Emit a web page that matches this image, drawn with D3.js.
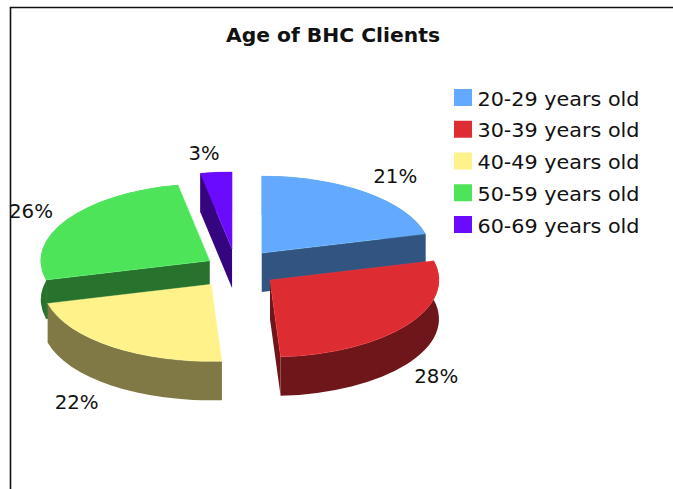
<!DOCTYPE html>
<html>
<head>
<meta charset="utf-8">
<script src="https://cdn.jsdelivr.net/npm/d3@7/dist/d3.min.js"></script>
<style>
html,body{margin:0;padding:0;background:#fff;overflow:hidden}
text{font-family:"DejaVu Sans",Verdana,sans-serif;fill:#111}
</style>
</head>
<body>
<svg id="chart" width="673" height="489"></svg>
<script>
const chartTitle = "Age of BHC Clients";
const categories = ["20-29 years old","30-39 years old","40-49 years old","50-59 years old","60-69 years old"];
const shares = [21,28,22,26,3];
const colours = ["#62a9ff","#de2c33","#fff28a","#4ee45a","#6a0aff"];

// Layout of the 3D pie
const W = 673, H = 489;
const rx = 169, ry = 77, depth = 39, tilt = ry / rx;
const centre = {x:236, y:268.5};
const explode = {x:42, y:19.6};
const explodeFactor = [1,1,1,0.74,1];
const labelRadius = 1.26;
const labelNudge = [[3,0],[-6,0],[-9.5,0],[1,2],[-8,1]];
const drawOrder = [4,0,3,1,2];

const svg = d3.select("#chart");

// frame
svg.append("path")
  .attr("d", `M${W},7.5H10.5V${H}`)
  .attr("fill","none").attr("stroke","#111").attr("stroke-width",1.6);

svg.append("text").attr("x",333).attr("y",42).attr("text-anchor","middle")
  .attr("font-size",20).attr("font-weight","bold").attr("textLength",214).attr("lengthAdjust","spacingAndGlyphs").text(chartTitle);

const pie = d3.pie().sort(null).value(d=>d).startAngle(0).endAngle(2*Math.PI);
const slices = pie(shares);
const arcGen = d3.arc().innerRadius(0).outerRadius(rx);
const toCanvas = t => t - Math.PI/2;
const dark = c => { const r = d3.rgb(c); return d3.rgb(r.r*0.5,r.g*0.5,r.b*0.5).formatHex(); };

function apexOf(d,i){
  const mid = (d.startAngle+d.endAngle)/2, f = explodeFactor[i];
  return {x: centre.x + explode.x*f*Math.sin(mid), y: centre.y - explode.y*f*Math.cos(mid)};
}

const depthScaled = depth / tilt;

function wallPath(a0,a1){
  const p = d3.path();
  p.moveTo(rx*Math.cos(toCanvas(a0)), rx*Math.sin(toCanvas(a0)));
  p.arc(0,0,rx,toCanvas(a0),toCanvas(a1));
  p.lineTo(rx*Math.cos(toCanvas(a1)), rx*Math.sin(toCanvas(a1))+depthScaled);
  p.arc(0,depthScaled,rx,toCanvas(a1),toCanvas(a0),true);
  p.closePath();
  return p.toString();
}
function cutPath(a){
  const x = rx*Math.cos(toCanvas(a)), y = rx*Math.sin(toCanvas(a));
  const p = d3.path();
  p.moveTo(0,0); p.lineTo(x,y); p.lineTo(x,y+depthScaled); p.lineTo(0,depthScaled); p.closePath();
  return p.toString();
}

drawOrder.forEach(i=>{
  const d = slices[i], a = apexOf(d,i), side = dark(colours[i]);
  const g = svg.append("g").attr("transform",`translate(${a.x},${a.y}) scale(1,${tilt})`);
  if (-Math.cos(d.startAngle-Math.PI/2) > 0.001) g.append("path").attr("d",cutPath(d.startAngle)).attr("fill",side);
  if (-Math.cos(d.endAngle+Math.PI/2) > 0.001) g.append("path").attr("d",cutPath(d.endAngle)).attr("fill",side);
  g.append("path").attr("d",wallPath(d.startAngle,d.endAngle)).attr("fill",side);
  g.append("path").attr("d",arcGen(d)).attr("fill",colours[i])
    .attr("stroke",d3.rgb(colours[i]).brighter(0.5).formatHex()).attr("stroke-width",0.4)
    .attr("vector-effect","non-scaling-stroke");
});

// percentage labels
slices.forEach((d,i)=>{
  const a = apexOf(d,i), mid = (d.startAngle+d.endAngle)/2;
  const front = -Math.cos(mid) > 0;
  svg.append("text")
    .attr("x", a.x + rx*labelRadius*Math.sin(mid) + labelNudge[i][0])
    .attr("y", a.y - ry*labelRadius*Math.cos(mid) + (front?depth:0) + labelNudge[i][1])
    .attr("dy","0.36em").attr("text-anchor","middle").attr("font-size",19)
    .attr("textLength", d.data>=10?44:31).attr("lengthAdjust","spacingAndGlyphs")
    .text(d.data+"%");
});

// legend
const legendY = d3.scalePoint().domain(categories).range([97.5,224.5]);
categories.forEach((c,i)=>{
  svg.append("rect").attr("x",454).attr("y",legendY(c)-8.5).attr("width",18).attr("height",17).attr("fill",colours[i]);
  svg.append("text").attr("x",477.5).attr("y",legendY(c)+1).attr("dy","0.36em").attr("font-size",19.5)
    .attr("textLength",162).attr("lengthAdjust","spacingAndGlyphs").text(c);
});
</script>
</body>
</html>
